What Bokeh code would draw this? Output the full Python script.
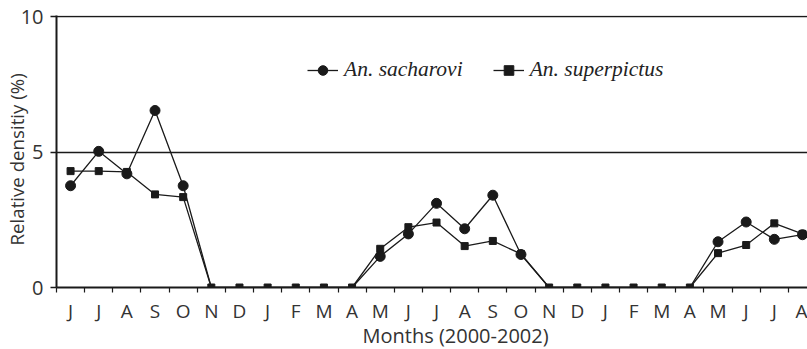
from bokeh.plotting import figure
from bokeh.models import (Range1d, FixedTicker, Title, Legend, LegendItem,
                          ColumnDataSource, CDSView, BooleanFilter)
from bokeh.embed import file_html
from bokeh.resources import INLINE

# ---- data ----
months = ["J", "J", "A", "S", "O", "N", "D", "J", "F", "M", "A", "M", "J", "J",
          "A", "S", "O", "N", "D", "J", "F", "M", "A", "M", "J", "J", "A"]
sacharovi = [3.76, 5.03, 4.20, 6.54, 3.76, 0, 0, 0, 0, 0, 0, 1.15, 1.98, 3.11,
             2.17, 3.41, 1.22, 0, 0, 0, 0, 0, 0, 1.69, 2.42, 1.78, 1.95]
superpictus = [4.30, 4.30, 4.27, 3.44, 3.34, 0, 0, 0, 0, 0, 0, 1.43, 2.23, 2.40,
               1.53, 1.72, 1.24, 0, 0, 0, 0, 0, 0, 1.27, 1.57, 2.37, 1.98]
y_ticks = [0, 5, 10]
x_title = "Months (2000-2002)"
y_title = "Relative densitiy (%)"
series_names = ["An. sacharovi", "An. superpictus"]

idx = list(range(len(months)))
src = ColumnDataSource(dict(x=idx, sach=sacharovi, sup=superpictus))

INK = "#1a1a1a"
TXT = "#333333"
FONT = "Open Sans"

p = figure(width=807, height=349, output_backend="svg", toolbar_location=None,
           x_range=Range1d(-0.5, -0.5 + 751 / 28.15), y_range=Range1d(0, 10.05),
           min_border_left=56, min_border_right=0, min_border_top=15,
           min_border_bottom=62)
p.outline_line_color = None
p.background_fill_color = "white"
p.border_fill_color = "white"

# y axis
p.yaxis.ticker = FixedTicker(ticks=y_ticks)
p.yaxis.axis_line_width = 2
p.yaxis.axis_line_color = INK
p.yaxis.major_tick_out = 6
p.yaxis.major_tick_in = 0
p.yaxis.major_tick_line_color = INK
p.yaxis.major_tick_line_width = 1.3
p.yaxis.minor_tick_line_color = None
p.yaxis.major_label_text_font = FONT
p.yaxis.major_label_text_font_size = "20px"
p.yaxis.major_label_text_color = TXT
p.yaxis.major_label_standoff = 7

# x axis: labels at month centres, small ticks at month boundaries
p.xaxis.ticker = FixedTicker(ticks=idx, minor_ticks=[i - 0.5 for i in range(len(months) + 1)])
p.xaxis.major_label_overrides = {i: m for i, m in enumerate(months)}
p.xaxis.axis_line_width = 2
p.xaxis.axis_line_color = INK
p.xaxis.major_tick_out = 0
p.xaxis.major_tick_in = 0
p.xaxis.minor_tick_out = 5
p.xaxis.minor_tick_in = 0
p.xaxis.minor_tick_line_color = INK
p.xaxis.minor_tick_line_width = 1.2
p.xaxis.major_label_text_font = FONT
p.xaxis.major_label_text_font_size = "19px"
p.xaxis.major_label_text_color = TXT
p.xaxis.major_label_standoff = 5

p.xgrid.visible = False
p.ygrid.ticker = FixedTicker(ticks=[5, 10])
p.ygrid.grid_line_color = INK
p.ygrid.grid_line_width = 1.3

# series
l1 = p.line("x", "sach", source=src, line_color=INK, line_width=1.3)
l2 = p.line("x", "sup", source=src, line_color=INK, line_width=1.3)
sq = p.scatter("x", "sup", source=src, marker="square", size=7,
               fill_color=INK, line_color=INK)
view = CDSView(filter=BooleanFilter([v > 0 for v in sacharovi]))
ci = p.scatter("x", "sach", source=src, view=view, marker="circle", size=10,
               fill_color=INK, line_color=INK)

legend = Legend(items=[LegendItem(label=series_names[0], renderers=[l1, ci]),
                       LegendItem(label=series_names[1], renderers=[l2, sq])],
                orientation="horizontal", location=(251, 205),
                label_text_font="Liberation Serif", label_text_font_style="italic",
                label_text_font_size="21.5px", label_text_color="#222222",
                glyph_width=31, glyph_height=24, label_standoff=6, spacing=30,
                padding=0, margin=0, border_line_color=None,
                background_fill_alpha=0)
p.add_layout(legend)

p.add_layout(Title(text=x_title, align="left", offset=306, standoff=-13,
                   text_font=FONT, text_font_size="20px", text_font_style="normal",
                   text_color=TXT), "below")
p.add_layout(Title(text=y_title, align="left", offset=42, standoff=-22,
                   vertical_align="bottom",
                   text_font=FONT, text_font_size="18.7px", text_font_style="normal",
                   text_color=TXT), "left")

open("out.html", "w").write(file_html(p, INLINE))
